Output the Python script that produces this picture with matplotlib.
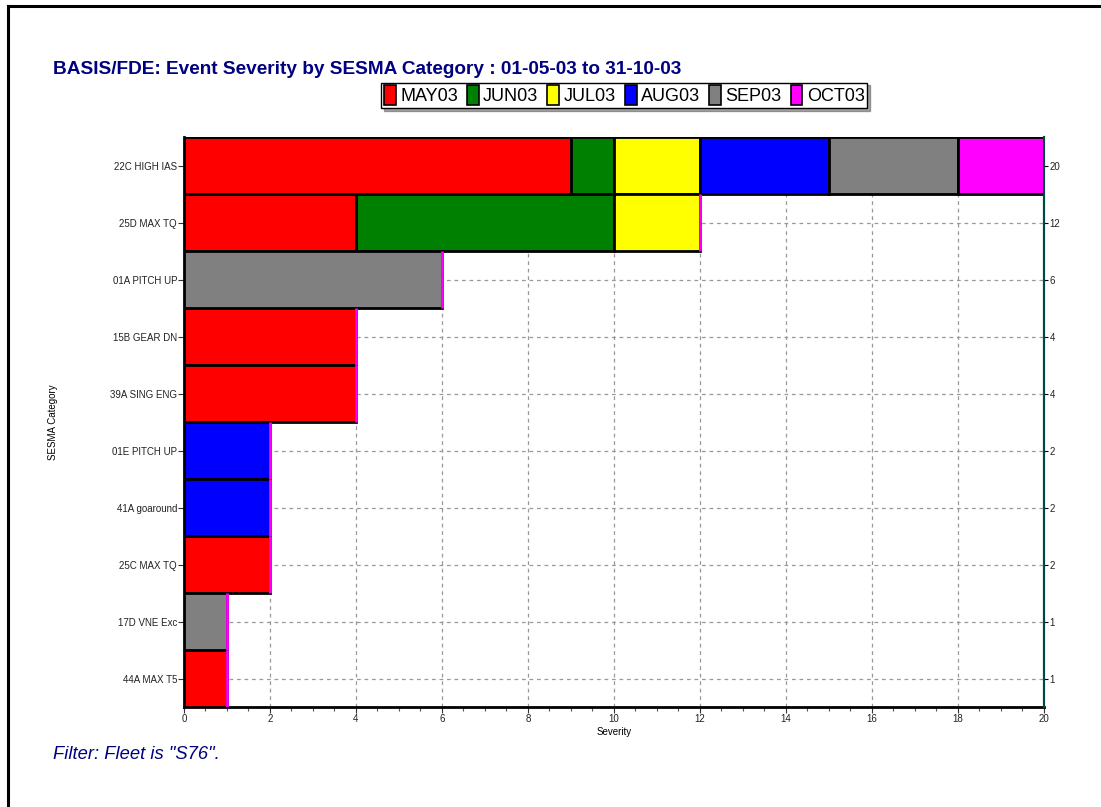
import numpy as np
import matplotlib
matplotlib.use("Agg")
import matplotlib.pyplot as plt
from matplotlib.lines import Line2D
from matplotlib.patches import Patch

plt.rcParams['font.family'] = ['Liberation Sans', 'DejaVu Sans']

# data, top row first
categories = ["22C HIGH IAS", "25D MAX TQ", "01A PITCH UP", "15B GEAR DN", "39A SING ENG",
              "01E PITCH UP", "41A goaround", "25C MAX TQ", "17D VNE Exc", "44A MAX T5"]
months = ["MAY03", "JUN03", "JUL03", "AUG03", "SEP03", "OCT03"]
may03 = [9, 4, 0, 4, 4, 0, 0, 2, 0, 1]
jun03 = [1, 6, 0, 0, 0, 0, 0, 0, 0, 0]
jul03 = [2, 2, 0, 0, 0, 0, 0, 0, 0, 0]
aug03 = [3, 0, 0, 0, 0, 2, 2, 0, 0, 0]
sep03 = [3, 0, 6, 0, 0, 0, 0, 0, 1, 0]
oct03 = [2, 0, 0, 0, 0, 0, 0, 0, 0, 0]
colors = ["#FF0000", "#008000", "#FFFF00", "#0000FF", "#808080", "#FF00FF"]

series = [may03, jun03, jul03, aug03, sep03, oct03]
totals = np.sum(series, axis=0)

fig = plt.figure(figsize=(11.01, 8.07), dpi=100)
ax = fig.add_axes([0.1671, 0.1239, 0.7811, 0.7063])

y = np.arange(len(categories))
left = np.zeros(len(categories))
for i, (vals, col) in enumerate(zip(series, colors)):
    vals = np.array(vals, dtype=float)
    if i == len(series) - 1:
        # empty last segment shows up as a thin magenta line at the bar end
        edges = ["black" if v > 0 else col for v in vals]
    else:
        edges = "black"
    ax.barh(y, vals, left=left, height=1.0, color=col, edgecolor=edges,
            linewidth=2, zorder=3)
    left += vals

ax.set_xlim(0, 20)
ax.set_ylim(len(categories) - 0.5, -0.5)
ax.set_xticks(np.arange(0, 21, 2))
ax.set_xticks(np.arange(0, 20.5, 0.5), minor=True)
ax.set_yticks(y)
ax.set_yticklabels(categories)
ax.tick_params(axis='both', labelsize=7, length=4, width=0.8, pad=1, colors='#333333',
               labelcolor='#222222')
ax.tick_params(axis='x', which='minor', length=3, width=0.8, colors='#555555')
ax.grid(True, which='major', linestyle=(0, (3, 3)), color='#999999', linewidth=0.9)
ax.set_axisbelow(True)

for s in ['left', 'bottom']:
    ax.spines[s].set_linewidth(2)
    ax.spines[s].set_color('black')
ax.spines['top'].set_visible(False)
ax.spines['right'].set_color('#004848')
ax.spines['right'].set_linewidth(1.5)

ax.set_xlabel("Severity", fontsize=7, labelpad=2)
ax.set_ylabel("SESMA Category", fontsize=7, labelpad=0)
ax.yaxis.set_label_coords(-0.146, 0.5)

ax2 = ax.twinx()
ax2.set_ylim(ax.get_ylim())
ax2.set_yticks(y)
ax2.set_yticklabels([str(t) for t in totals])
ax2.tick_params(axis='y', labelsize=7, length=3, pad=1, labelcolor='#222222')
for s in ['left', 'top', 'bottom']:
    ax2.spines[s].set_visible(False)
ax2.spines['right'].set_color('#004848')
ax2.spines['right'].set_linewidth(1.5)

fig.text(0.048, 0.908, "BASIS/FDE: Event Severity by SESMA Category : 01-05-03 to 31-10-03",
         fontsize=13.7, fontweight='bold', color='#000080', va='baseline')

handles = [Patch(facecolor=c, edgecolor='black', linewidth=1.2) for c in colors]
leg = fig.legend(handles, months, loc='center', bbox_to_anchor=(0.567, 0.882), ncol=6,
                 fontsize=13, frameon=True, fancybox=False, shadow=True,
                 handlelength=0.65, handleheight=1.3, handletextpad=0.25,
                 columnspacing=0.5, borderpad=0.15, borderaxespad=0)
leg.get_frame().set_edgecolor('black')
leg.get_frame().set_linewidth(1)

fig.text(0.048, 0.06, 'Filter: Fleet is "S76".', fontsize=13.2, style='italic',
         color='#000080', va='baseline')

# page frame on top and left
fig.add_artist(Line2D([0.0075, 0.0075], [0, 0.993], color='black', linewidth=2.2,
                      transform=fig.transFigure))
fig.add_artist(Line2D([0.0075, 1.0], [0.993, 0.993], color='black', linewidth=2.2,
                      transform=fig.transFigure))

fig.savefig("out.png", dpi=100)
